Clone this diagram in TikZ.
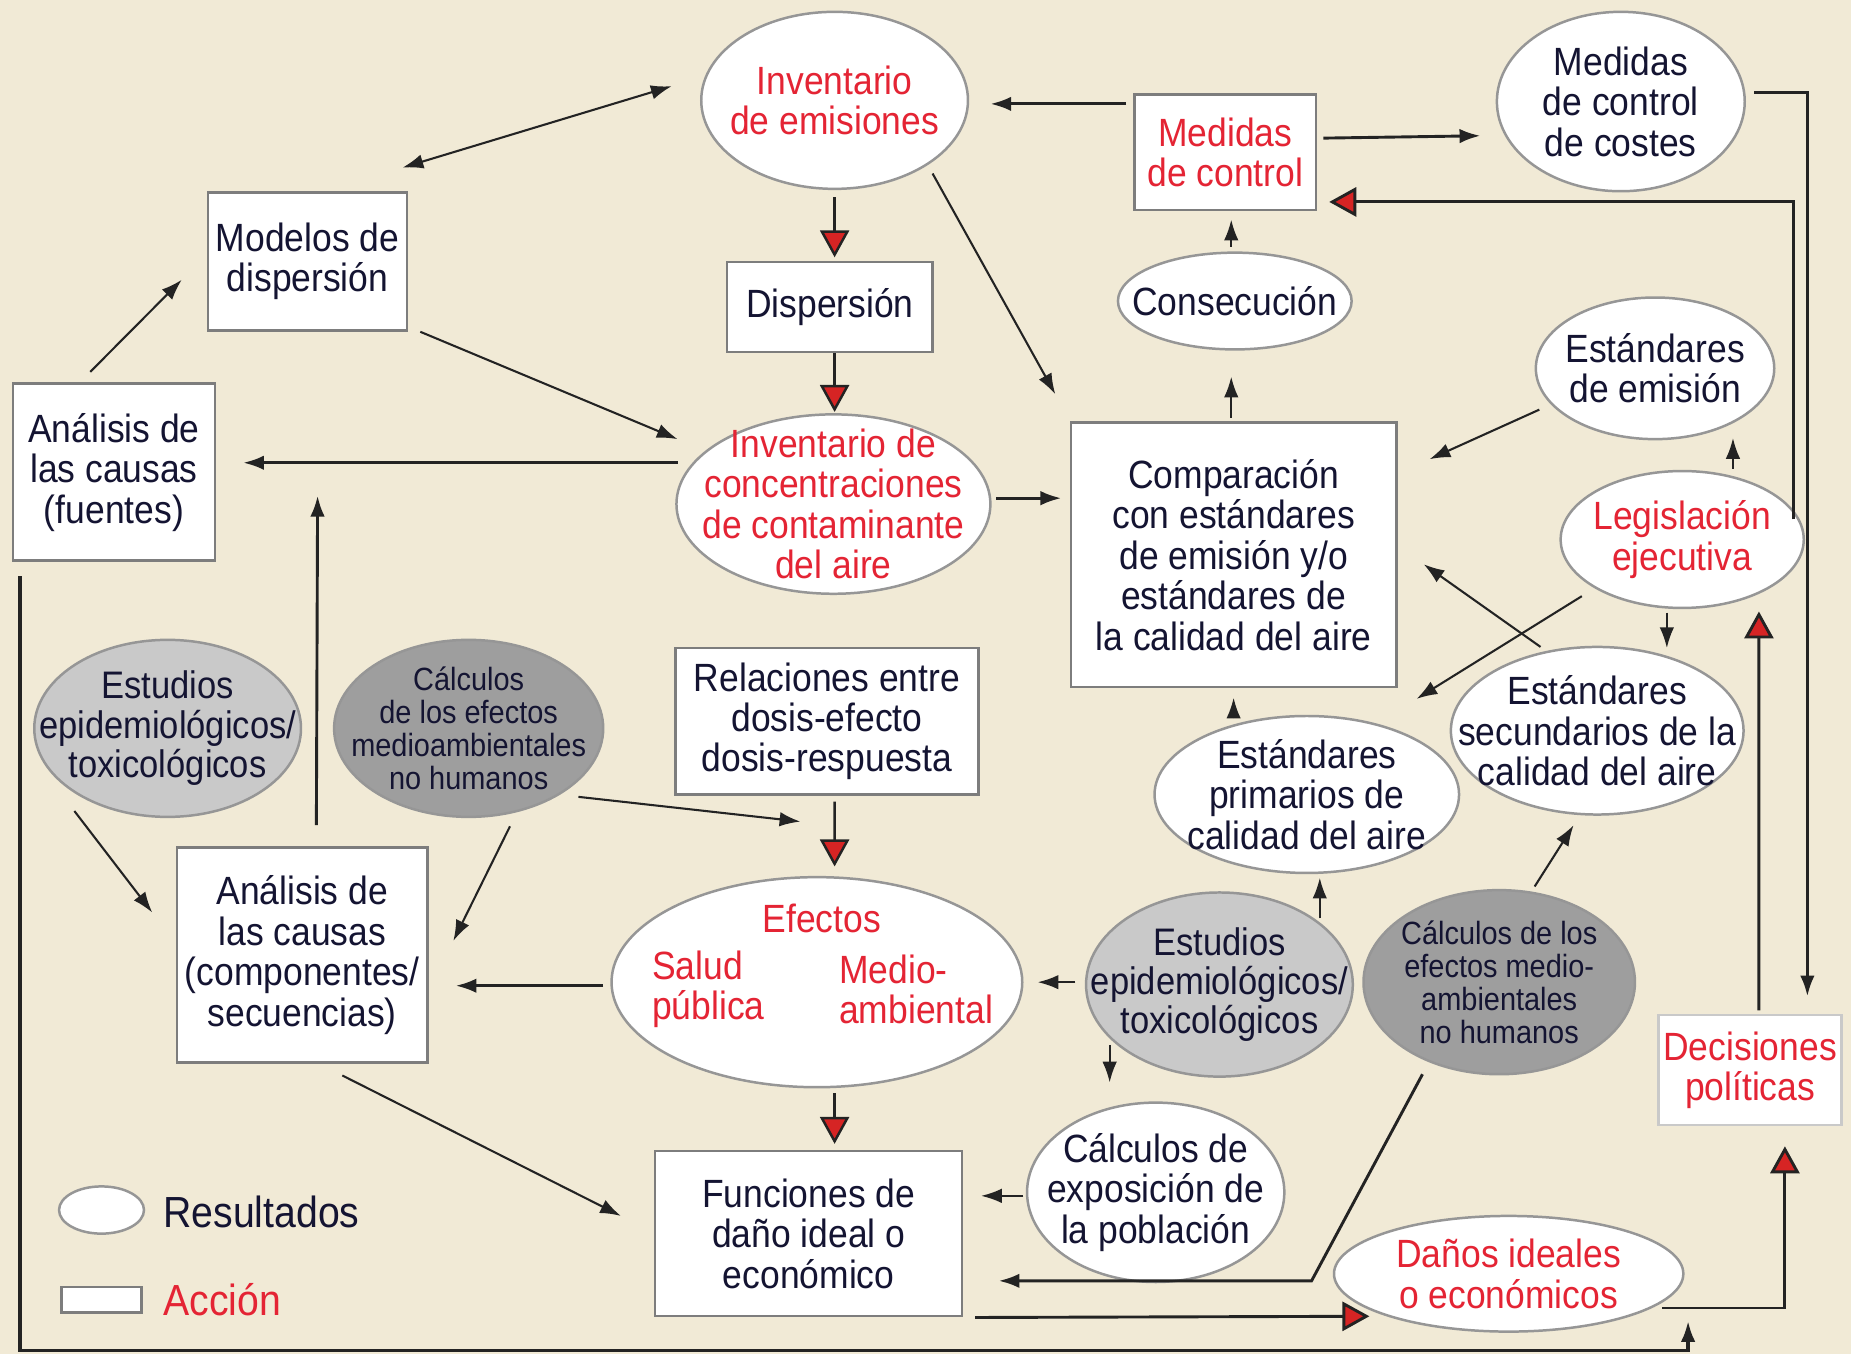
\documentclass[tikz,border=0pt]{standalone}
\usepackage{fontspec}
\setmainfont{Liberation Sans}[FakeStretch=0.9]
\usetikzlibrary{shapes.geometric,arrows.meta,calc}
\definecolor{bgc}{RGB}{241,234,214}
\definecolor{ink}{RGB}{20,20,50}
\definecolor{redtxt}{RGB}{228,36,52}
\definecolor{arrred}{RGB}{214,36,36}
\definecolor{boxgray}{RGB}{125,125,125}
\definecolor{ellgray}{RGB}{150,150,150}
\definecolor{lgray}{RGB}{201,201,201}
\definecolor{dgray}{RGB}{158,158,158}
\definecolor{lin}{RGB}{35,35,35}
\newcommand\fmain{\fontsize{19pt}{19.5pt}\selectfont}
\newcommand\fsmall{\fontsize{15.5pt}{16pt}\selectfont}
\newcommand\fmid{\fontsize{18.5pt}{19pt}\selectfont}
\newcommand\fleg{\fontsize{21pt}{22pt}\selectfont}
\tikzset{
  rbox/.style={draw=boxgray, line width=1.2pt, fill=white, inner sep=0pt, align=center, font=\fmain, text=ink},
  ell/.style={ellipse, draw=ellgray, line width=1.2pt, fill=white, inner sep=0pt},
  lbl/.style={align=center, font=\fmain, text=ink, inner sep=0pt},
  rlbl/.style={lbl, text=redtxt},
  conn/.style={draw=lin, line width=1pt, -{Latex[length=10pt,width=7pt]}},
  dconn/.style={draw=lin, line width=1pt, {Latex[length=10pt,width=7pt]}-{Latex[length=10pt,width=7pt]}},
  thick conn/.style={conn, line width=1.4pt},
  redc/.style={draw=lin, line width=1.2pt, -{Triangle[length=13pt,width=14pt,fill=arrred]}},
}
\begin{document}
\begin{tikzpicture}[x=0.02cm,y=-0.02cm]
\fill[bgc] (0,0) rectangle (1568,1147);
\useasboundingbox (0,0) rectangle (1568,1147);

% rectangles (actions)
\node[rbox, minimum width=3.08cm, minimum height=1.96cm, text=redtxt] (mc) at (1038,129) {Medidas\\de control};
\node[rbox, minimum width=3.38cm, minimum height=2.34cm] (md) at (260.5,221.5) {Modelos de\\dispersión};
\node[rbox, minimum width=3.48cm, minimum height=1.52cm] (dp) at (703,260) {Dispersión};
\node[rbox, minimum width=3.42cm, minimum height=3.0cm] (af) at (96.5,400) {Análisis de\\las causas\\(fuentes)};
\node[rbox, minimum width=5.52cm, minimum height=4.48cm] (cmp) at (1045,470) {Comparación\\con estándares\\de emisión y/o\\estándares de\\la calidad del aire};
\node[rbox, minimum width=5.14cm, minimum height=2.48cm] (rel) at (700.5,611) {Relaciones entre\\dosis-efecto\\dosis-respuesta};
\node[rbox, minimum width=4.24cm, minimum height=3.64cm] (ac) at (256,809) {Análisis de\\las causas\\(componentes/\\secuencias)};
\node[rbox, draw=lgray, minimum width=3.1cm, minimum height=1.86cm, text=redtxt] (dec) at (1482.5,906.5) {Decisiones\\políticas};
\node[rbox, minimum width=5.2cm, minimum height=2.8cm] (fun) at (685,1045) {Funciones de\\daño ideal o\\económico};

% ellipses (results)
\node[ell, minimum width=4.52cm, minimum height=3.0cm, label={[rlbl]center:{Inventario\\de emisiones}}] (ie) at (707,85) {};
\node[ell, minimum width=4.2cm, minimum height=3.04cm, label={[lbl]center:{Medidas\\de control\\de costes}}] (mcc) at (1373,86) {};
\node[ell, minimum width=3.96cm, minimum height=1.64cm, label={[lbl]center:{Consecución}}] (con) at (1046,255) {};
\node[ell, minimum width=4.04cm, minimum height=2.4cm, label={[lbl]center:{Estándares\\de emisión}}] (ee) at (1402,312) {};
\node[ell, minimum width=5.32cm, minimum height=3.04cm, label={[rlbl]center:{Inventario de\\concentraciones\\de contaminante\\del aire}}] (ic) at (706,427) {};
\node[ell, minimum width=4.12cm, minimum height=2.32cm, label={[rlbl]center:{Legislación\\ejecutiva}}] (le) at (1425,457) {};
\node[ell, fill=lgray, minimum width=4.52cm, minimum height=3.0cm, label={[lbl, font=\fmid]center:{Estudios\\epidemiológicos/\\toxicológicos}}] (eL) at (142,617) {};
\node[ell, fill=dgray, minimum width=4.56cm, minimum height=3.0cm, label={[lbl, font=\fsmall]center:{Cálculos\\de los efectos\\medioambientales\\no humanos}}] (cL) at (397,617) {};
\node[ell, minimum width=4.96cm, minimum height=2.84cm, label={[lbl]center:{Estándares\\secundarios de la\\calidad del aire}}] (es) at (1353,619) {};
\node[ell, minimum width=5.16cm, minimum height=2.66cm, label={[lbl]center:{Estándares\\primarios de\\calidad del aire}}] (ep) at (1107,673) {};
\node[ell, minimum width=6.96cm, minimum height=3.56cm,
  label={[rlbl, xshift=0.08cm, yshift=1.08cm]center:{Efectos}},
  label={[rlbl, align=left, xshift=-1.84cm, yshift=-0.12cm]center:{Salud\\pública}},
  label={[rlbl, align=left, xshift=1.68cm, yshift=-0.12cm]center:{Medio-\\ambiental}}] (ef) at (692,832) {};
\node[ell, fill=lgray, minimum width=4.52cm, minimum height=3.12cm, label={[lbl, font=\fmid]center:{Estudios\\epidemiológicos/\\toxicológicos}}] (eR) at (1033,834) {};
\node[ell, fill=dgray, minimum width=4.6cm, minimum height=3.12cm, label={[lbl, font=\fsmall]center:{Cálculos de los\\efectos medio-\\ambientales\\no humanos}}] (cR) at (1270,832) {};
\node[ell, minimum width=4.36cm, minimum height=3.04cm, label={[lbl]center:{Cálculos de\\exposición de\\la población}}] (ce) at (979,1010) {};
\node[ell, minimum width=5.92cm, minimum height=1.96cm, label={[rlbl]center:{Daños ideales\\o económicos}}] (di) at (1278,1079) {};

% legend
\node[ell, minimum width=1.44cm, minimum height=0.8cm] (legE) at (86,1025) {};
\node[rbox, minimum width=1.36cm, minimum height=0.44cm] (legR) at (86,1101) {};
\node[lbl, font=\fleg, anchor=west] (legT1) at (138,1027) {Resultados};
\node[lbl, font=\fleg, text=redtxt, anchor=west] (legT2) at (138,1101) {Acción};

% connectors
\draw[dconn] ([shift={(-5,-20)}]md.north east) -- ([shift={(-24,-12)}]ie.west);
\draw[conn] ([shift={(-20,-9)}]af.north) -- ([shift={(-21,15.5)}]md.west);
\draw[conn] ([shift={(10,0)}]md.south east) -- ([shift={(2,-55)}]ic.west);
\draw[redc] ([shift={(0,6)}]ie.south) -- ([shift={(4,-3)}]dp.north);
\draw[redc] ([shift={(4,0)}]dp.south) -- ([shift={(1,-1)}]ic.north);
\draw[thick conn] ([shift={(2,-35)}]ic.west) -- ([shift={(23,-8)}]af.east);
\draw[conn] ([shift={(83,62)}]ie.center) -- ([shift={(-12,-23)}]cmp.north west);
\draw[thick conn] ([shift={(4,-5)}]ic.east) -- ([shift={(-7,-48)}]cmp.west);
\draw[thick conn] ([shift={(-6,-41)}]mc.west) -- ([shift={(18,3)}]ie.east);
\draw[thick conn] ([shift={(5,-12)}]mc.east) -- ([shift={(-13,29)}]mcc.west);
\draw[conn] ([shift={(-3,-4)}]con.north) -- ([shift={(5,7)}]mc.south);
\draw[conn] ([shift={(-2,-3)}]cmp.north) -- ([shift={(-3,22)}]con.south);
\draw[thick conn] ([shift={(7,-8)}]mcc.east) -| ([shift={(-30,-15)}]dec.north east);
\draw[redc, line width=1.4pt] ([shift={(-10,-17)}]le.east) |- ([shift={(10,-8)}]mc.south east);
\draw[conn] ([shift={(43,-1)}]le.north) -- ([shift={(66,-2)}]ee.south);
\draw[conn] ([shift={(4,35)}]ee.west) -- ([shift={(27,32)}]cmp.north east);
\draw[conn] ([shift={(-13,3)}]le.south) -- ([shift={(59,2)}]es.north);
\draw[conn] ([shift={(-85,48)}]le.center) -- ([shift={(93,-81)}]ep.center);
\draw[conn] ([shift={(-48,-71)}]es.center) -- ([shift={(22,8)}]cmp.east);
\draw[conn] ([shift={(-62,3)}]ep.north) -- ([shift={(0,8)}]cmp.south);
\draw[conn] ([shift={(85,-56)}]eR.center) -- ([shift={(11,3)}]ep.south);
\draw[conn] ([shift={(30,-2)}]cR.north) -- ([shift={(-20,8)}]es.south);
\draw[conn] ([shift={(-8,-2)}]eR.west) -- ([shift={(12,0)}]ef.east);
\draw[conn] ([shift={(-93,51)}]eR.center) -- ([shift={(-39,-16)}]ce.north);
\draw[conn] ([shift={(-2,3)}]ce.west) -- ([shift={(15,-32)}]fun.east);
\draw[thick conn] ([shift={(-65,78)}]cR.center) -- ([shift={(295,40)}]fun.east) -- ([shift={(30,40)}]fun.east);
\draw[redc, line width=1.4pt] ([shift={(10,0)}]fun.south east) -- ([shift={(-118,36)}]di.center);
\draw[redc, line width=1.4pt] ([shift={(130,29)}]di.center) -| ([shift={(29.5,17)}]dec.south);
\draw[redc, line width=1.4pt] ([shift={(7.5,-3)}]dec.north) -- ([shift={(65,61)}]le.center);
\draw[redc] ([shift={(6.5,5)}]rel.south) -- ([shift={(15,-8)}]ef.north);
\draw[redc] ([shift={(15,4)}]ef.south) -- ([shift={(22,-5)}]fun.north);
\draw[conn] ([shift={(93,58)}]cL.center) -- ([shift={(-14,-46)}]ef.north);
\draw[thick conn] ([shift={(-6,3)}]ef.west) -- ([shift={(23,26)}]ac.east);
\draw[conn] ([shift={(-79,70)}]eL.center) -- ([shift={(-20,-36)}]ac.west);
\draw[conn] ([shift={(35,83)}]cL.center) -- ([shift={(21,-12)}]ac.east);
\draw[thick conn] ([shift={(12,-18)}]ac.north) -- ([shift={(86,20)}]af.east);
\draw[conn] ([shift={(34,10)}]ac.south) -- ([shift={(-28,-15)}]fun.west);
\draw[thick conn, line width=1.6pt] ([shift={(7,12)}]af.south west) -- ++(0,656) -| ([shift={(152,-10)}]di.south);
\end{tikzpicture}
\end{document}
